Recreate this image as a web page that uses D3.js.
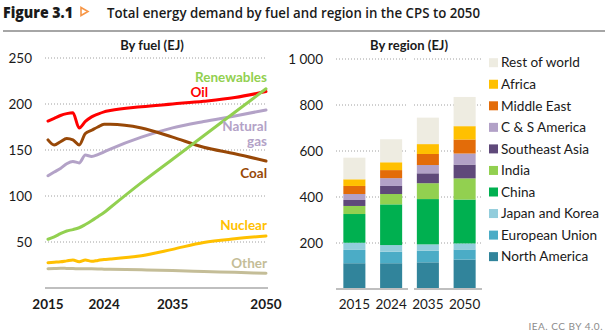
<!DOCTYPE html>
<html>
<head>
<meta charset="utf-8">
<script src="https://cdn.jsdelivr.net/npm/d3@7"></script>
<style>
  body { margin: 0; background: #fff; }
  svg { display: block; font-family: Lato, "Open Sans", sans-serif; }
</style>
</head>
<body>
<div id="chart"></div>
<script>
// Total energy demand by fuel and region (EJ)
const years = [2015, 2016, 2017, 2018, 2019, 2020, 2021, 2022, 2023, 2024, 2025, 2030, 2035, 2040, 2045, 2050];
const oil = [181.5, 184.5, 187.5, 189.5, 190.5, 174, 181, 186, 189, 191.5, 193, 197, 200, 203, 207, 213.5];
const coal = [161, 155.5, 159, 162.5, 161, 155.5, 168, 171.5, 175, 178, 178, 174, 164, 153, 146, 138];
const gas = [122, 126, 130, 135, 137.5, 136, 144.5, 143, 145, 148, 151, 164, 174, 181, 187, 193.5];
const renewables = [53, 55.5, 59, 62, 63.5, 65.5, 69, 73, 77.5, 82, 87.5, 114.5, 140, 165.5, 191, 216.5];
const nuclear = [27.5, 28, 28.5, 29.5, 30.5, 28.5, 30.5, 29, 30, 31, 31.5, 35, 42, 49.5, 53.5, 56.5];
const other = [21, 21.2, 21.4, 21.3, 21.2, 20.8, 21, 20.8, 20.6, 20.5, 20.4, 19.8, 19, 18, 17, 16];
const fuelTicks = [50, 100, 150, 200, 250];
const yearTicks = [2015, 2024, 2035, 2050];

const barYears = ["2015", "2024", "2035", "2050"];
const regions = ["North America", "European Union", "Japan and Korea", "China", "India",
  "Southeast Asia", "C & S America", "Middle East", "Africa", "Rest of world"];
const northAmerica = [112, 112, 116, 128];
const europeanUnion = [58, 50, 51, 44];
const japanKorea = [31, 29, 27, 26];
const china = [125, 177, 197, 191];
const india = [35, 45, 69, 92];
const southeastAsia = [26, 35, 43, 60];
const csAmerica = [26, 34, 36, 48];
const middleEast = [35, 35, 48, 61];
const africa = [29, 34, 43, 58];
const restOfWorld = [94, 100, 115, 127];
const regionTicks = [200, 400, 600, 800, 1000];

const regionColors = ["#31849b", "#4bacc6", "#92cddc", "#00b050", "#92d050",
  "#5f497a", "#b2a1c7", "#e36c09", "#ffc000", "#eeece1"];

const W = 605, H = 336;
const svg = d3.select("#chart").append("svg").attr("width", W).attr("height", H);

// header
svg.append("text").attr("x", 3).attr("y", 18)
  .style("font-family", "'Open Sans', sans-serif").style("font-weight", 800).style("font-size", "16px")
  .attr("fill", "#1a1a1a").attr("textLength", 70).attr("lengthAdjust", "spacingAndGlyphs")
  .text("Figure 3.1");
svg.append("path").attr("d", "M81,7.5 L88,11.5 L81,15.5 Z")
  .attr("fill", "none").attr("stroke", "#f79646").attr("stroke-width", 1.6);
svg.append("text").attr("x", 107).attr("y", 18)
  .style("font-family", "'Open Sans', sans-serif").style("font-weight", 600).style("font-size", "14px")
  .attr("fill", "#1a1a1a").attr("textLength", 373).attr("lengthAdjust", "spacingAndGlyphs")
  .text("Total energy demand by fuel and region in the CPS to 2050");
svg.append("line").attr("x1", 3).attr("x2", 605).attr("y1", 31).attr("y2", 31)
  .attr("stroke", "#a6a6a6").attr("stroke-width", 2);

// ---- left panel: by fuel ----
const x = d3.scaleLinear().domain([2015, 2050]).range([48, 266]);
const y = d3.scaleLinear().domain([0, 250]).range([288, 58]);

svg.append("text").attr("x", 152).attr("y", 50).attr("text-anchor", "middle")
  .style("font-weight", 700).style("font-size", "13px").attr("fill", "#1a1a1a").text("By fuel (EJ)");

svg.append("g").selectAll("line").data(fuelTicks).join("line")
  .attr("x1", 45).attr("x2", 267).attr("y1", d => y(d)).attr("y2", d => y(d))
  .attr("stroke", "#a0a0a0").attr("stroke-width", 1).attr("stroke-dasharray", "1,2");

svg.append("g").selectAll("text").data(fuelTicks).join("text")
  .attr("x", 32).attr("y", d => y(d)).attr("dy", "0.35em").attr("text-anchor", "end")
  .style("font-size", "13.5px").attr("fill", "#1a1a1a").text(d => d);

svg.append("line").attr("x1", 45).attr("x2", 268).attr("y1", y(0)).attr("y2", y(0))
  .attr("stroke", "#bfbfbf").attr("stroke-width", 2);

svg.append("g").selectAll("text").data(yearTicks).join("text")
  .attr("x", d => x(d)).attr("y", 309).attr("text-anchor", "middle")
  .style("font-size", "13.5px").style("font-weight", 700).attr("fill", "#1a1a1a").text(d => d);

const fuels = [
  { name: "Other", values: other, color: "#c4bd97" },
  { name: "Nuclear", values: nuclear, color: "#ffc000" },
  { name: "Natural gas", values: gas, color: "#b3a2c7" },
  { name: "Coal", values: coal, color: "#984807" },
  { name: "Oil", values: oil, color: "#ff0000" },
  { name: "Renewables", values: renewables, color: "#92d050" }
];

const line = d3.line()
  .x((d, i) => x(years[i]))
  .y(d => y(d))
  .curve(d3.curveMonotoneX);

svg.append("g").selectAll("path").data(fuels).join("path")
  .attr("d", d => line(d.values))
  .attr("fill", "none").attr("stroke", d => d.color).attr("stroke-width", 3)
  .attr("stroke-linejoin", "round").attr("stroke-linecap", "round");

const fuelLabels = [
  { text: "Renewables", x: 267, y: 77.5, color: "#92d050" },
  { text: "Oil", x: 208, y: 92.5, color: "#ff0000" },
  { text: "Natural", x: 267, y: 126, color: "#b3a2c7" },
  { text: "gas", x: 267, y: 141, color: "#b3a2c7" },
  { text: "Coal", x: 267, y: 173, color: "#984807" },
  { text: "Nuclear", x: 267, y: 225, color: "#ffc000" },
  { text: "Other", x: 267, y: 263, color: "#c4bd97" }
];
svg.append("g").selectAll("text").data(fuelLabels).join("text")
  .attr("x", d => d.x).attr("y", d => d.y).attr("dy", "0.35em").attr("text-anchor", "end")
  .style("font-size", "13.5px").style("font-weight", 700).attr("fill", d => d.color).text(d => d.text);

// ---- right panel: by region ----
const xb = d3.scaleBand().domain(barYears).range([336, 483]).paddingInner(0.4).paddingOuter(0.2);
const yb = d3.scaleLinear().domain([0, 1000]).range([289, 59]);

svg.append("text").attr("x", 409).attr("y", 50).attr("text-anchor", "middle")
  .style("font-weight", 700).style("font-size", "13px").attr("fill", "#1a1a1a").text("By region (EJ)");

const segments = [[336, 408], [414, 482]];
regionTicks.forEach(t => {
  segments.forEach(s => {
    svg.append("line").attr("x1", s[0]).attr("x2", s[1]).attr("y1", yb(t)).attr("y2", yb(t))
      .attr("stroke", "#a0a0a0").attr("stroke-width", 1).attr("stroke-dasharray", "1,2");
  });
});

svg.append("g").selectAll("text").data(regionTicks).join("text")
  .attr("x", 323).attr("y", d => yb(d)).attr("dy", "0.35em").attr("text-anchor", "end")
  .style("font-size", "13.5px").attr("fill", "#1a1a1a").text(d => d3.format(",")(d).replace(",", " "));

const regionValues = [northAmerica, europeanUnion, japanKorea, china, india,
  southeastAsia, csAmerica, middleEast, africa, restOfWorld];
const table = barYears.map((yr, i) => {
  const row = { year: yr };
  regions.forEach((r, k) => row[r] = regionValues[k][i]);
  return row;
});
const stacked = d3.stack().keys(regions)(table);

svg.append("g").selectAll("g").data(stacked).join("g")
  .attr("fill", (d, i) => regionColors[i])
  .selectAll("rect").data(d => d).join("rect")
  .attr("x", d => xb(d.data.year)).attr("width", xb.bandwidth())
  .attr("y", d => yb(d[1])).attr("height", d => yb(d[0]) - yb(d[1]));

segments.forEach(s => {
  svg.append("line").attr("x1", s[0]).attr("x2", s[1]).attr("y1", yb(0)).attr("y2", yb(0))
    .attr("stroke", "#bfbfbf").attr("stroke-width", 2);
});

svg.append("g").selectAll("text").data(barYears).join("text")
  .attr("x", d => xb(d) + xb.bandwidth() / 2).attr("y", 309).attr("text-anchor", "middle")
  .style("font-size", "13.5px").attr("fill", "#1a1a1a").text(d => d);

// legend, top entry first
const legend = svg.append("g").selectAll("g").data(regions.slice().reverse()).join("g")
  .attr("transform", (d, i) => `translate(489, ${62.7 + i * 21.55})`);
legend.append("rect").attr("x", 0).attr("y", -4.5).attr("width", 9).attr("height", 9)
  .attr("fill", d => regionColors[regions.indexOf(d)]);
legend.append("text").attr("x", 12).attr("dy", "0.35em")
  .style("font-size", "13.6px").attr("fill", "#1a1a1a").text(d => d);

svg.append("text").attr("x", 603).attr("y", 330).attr("text-anchor", "end")
  .style("font-size", "10px").style("letter-spacing", "0.5px").attr("fill", "#8c8c8c").text("IEA. CC BY 4.0.");
</script>
</body>
</html>
